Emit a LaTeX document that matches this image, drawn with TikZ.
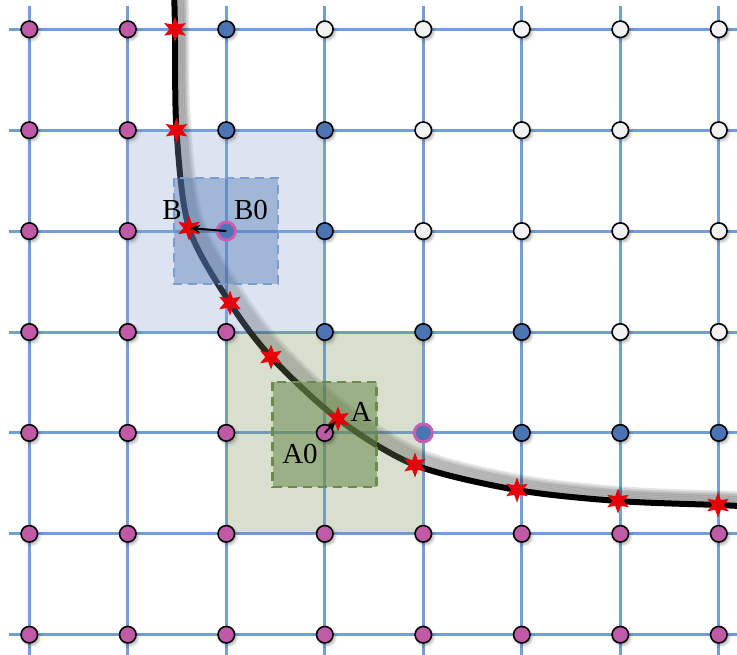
\documentclass[tikz,border=0pt]{standalone}
\usepackage{fontspec}
\setmainfont{Liberation Serif}
\usepackage{tikz}
\usetikzlibrary{arrows.meta, positioning, shapes.geometric, shadows.blur}
\definecolor{gridblue}{HTML}{739FD9}
\definecolor{dotpink}{HTML}{C05AA6}
\definecolor{dotblue}{HTML}{4A74B4}
\definecolor{dotwhite}{HTML}{F2F2F2}
\definecolor{ringpink}{HTML}{C85DB2}
\definecolor{boxblue}{HTML}{8DA5CF}
\definecolor{boxgreen}{HTML}{7E9460}
\definecolor{dashblue}{HTML}{7D9DD2}
\definecolor{dashgreen}{HTML}{6B8A4B}
\definecolor{starred}{HTML}{E6000A}
\tikzstyle{dot}=[circle,draw=black,line width=1.6pt,minimum size=16.5pt,inner sep=0pt,
  blur shadow={shadow xshift=2pt,shadow yshift=-2.5pt,shadow blur radius=2.5pt,shadow opacity=30}]
\tikzstyle{dotp}=[dot,fill=dotpink]
\tikzstyle{dotb}=[dot,fill=dotblue]
\tikzstyle{dotw}=[dot,fill=dotwhite]
\tikzstyle{dotr}=[circle,draw=ringpink,line width=3pt,fill=dotblue,minimum size=18pt,inner sep=0pt]
\tikzstyle{hit}=[star,star points=6,star point ratio=2.2,fill=starred,minimum size=25pt,inner sep=0pt]
\tikzstyle{lbl}=[font=\fontsize{29}{30}\selectfont,inner sep=0pt]
\tikzstyle{arr}=[-{Stealth[length=10pt,width=8pt]},line width=2pt,color=black]
\tikzstyle{gridline}=[gridblue,line width=3pt]
\tikzstyle{dashbox}=[line width=2.5pt,dash pattern=on 9pt off 6pt]

\begin{document}
\begin{tikzpicture}[x=1pt,y=-1pt]
  \useasboundingbox (0,0) rectangle (737,654);
  \foreach \i in {0,...,7}
    \draw[gridline] ({29.3+98.5*\i},6) -- ({29.3+98.5*\i},660);
  \foreach \j in {0,...,6}
    \draw[gridline] (9,{29.3+100.9*\j}) -- (745,{29.3+100.9*\j});
  % points on the curve
  \coordinate (c0) at (174,-12);
  \coordinate (c1) at (175,29.3);
  \coordinate (c2) at (176.5,130.2);
  \coordinate (c3) at (189,228);
  \coordinate (c4) at (230,303);
  \coordinate (c5) at (271,357);
  \coordinate (c6) at (338,419);
  \coordinate (c7) at (415,465);
  \coordinate (c8) at (517,490);
  \coordinate (c9) at (618,501);
  \coordinate (c10) at (718,505);
  \coordinate (c11) at (750,506.5);
  \foreach \k in {1,...,7}
    \draw[black,opacity=0.1,line width=6pt,transform canvas={shift={({1.6*\k*1pt},{1.6*\k*1pt})}}]
      plot[smooth] coordinates {(c0) (c1) (c2) (c3) (c4) (c5) (c6) (c7) (c8) (c9) (c10) (c11)};
  \draw[black,line width=6pt]
    plot[smooth] coordinates {(c0) (c1) (c2) (c3) (c4) (c5) (c6) (c7) (c8) (c9) (c10) (c11)};
  % regions
  \fill[boxblue,opacity=0.3] (127.8,130.2) rectangle (324.8,332);
  \fill[boxgreen,opacity=0.3] (226.3,332) rectangle (423.3,533.8);
  \filldraw[dashbox,fill=dotblue,fill opacity=0.4,draw=dashblue] (174,178) rectangle (278,284);
  \filldraw[dashbox,fill=dashgreen,fill opacity=0.55,draw=dashgreen] (272.5,382) rectangle (376.5,487);
  \foreach \row [count=\j from 0] in {{p,p,b,w,w,w,w,w},{p,p,b,b,w,w,w,w},{p,p,r,b,w,w,w,w},
      {p,p,p,b,b,b,w,w},{p,p,p,p,r,b,b,b},{p,p,p,p,p,p,p,p},{p,p,p,p,p,p,p,p}}
    \foreach \c [count=\i from 0] in \row
      \node[dot\c] (n\i\j) at ({29.3+98.5*\i},{29.3+100.9*\j}) {};
  \foreach \k in {1,...,10}
    \node[hit] (s\k) at (c\k) {};
  \draw[arr,shorten >=1pt] (n22.center) -- (s3.center);
  \draw[arr,shorten >=3pt] (n34.center) -- (s6.center);
  \node[lbl] (lblB) at (172,210) {B};
  \node[lbl] (lblB0) at (251,210) {B0};
  \node[lbl] (lblA) at (361,412) {A};
  \node[lbl] (lblA0) at (300,454) {A0};
\end{tikzpicture}
\end{document}
